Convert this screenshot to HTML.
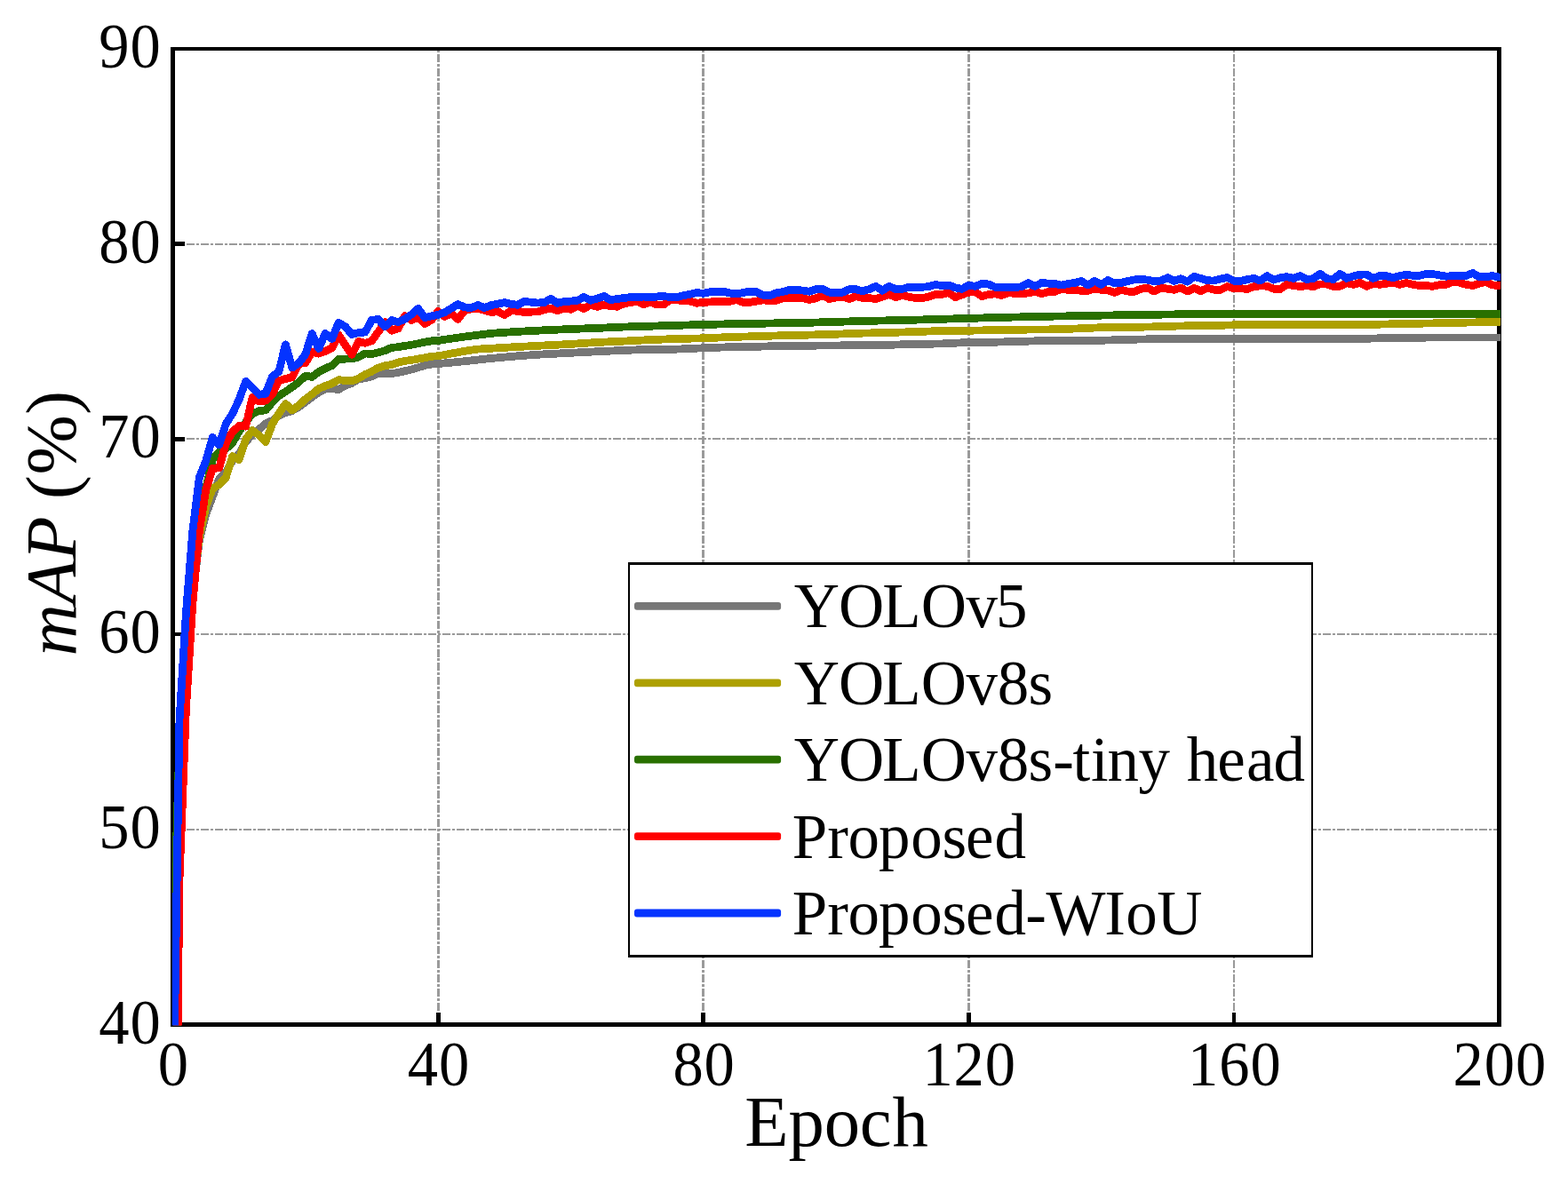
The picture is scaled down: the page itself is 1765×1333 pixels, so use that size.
<!DOCTYPE html>
<html lang="en"><head><meta charset="utf-8"><title>mAP (%) versus Epoch</title>
<style>
html,body{margin:0;padding:0;background:#fff;}
body{width:1765px;height:1333px;overflow:hidden;}
svg{display:block;}
text{font-family:"Liberation Serif","Times New Roman",Times,serif;fill:#000;font-kerning:none;white-space:pre;}
.tick{font-size:71px;}
.leg{font-size:71px;}
.axl{font-size:80.7px;}
.it{font-style:italic;}
</style></head><body>
<svg width="1765" height="1333" viewBox="0 0 1765 1333">
<rect width="1765" height="1333" fill="#fff"/>
<defs><clipPath id="plot"><rect x="193.8" y="50" width="1495.4" height="1104.4"/></clipPath></defs>
<g fill="none" stroke="#9a9a9a" shape-rendering="crispEdges">
<line x1="210" y1="275" x2="1685" y2="275" stroke-width="2" stroke-dasharray="8.99 2 3 2"/>
<line x1="210" y1="494" x2="1685" y2="494" stroke-width="2" stroke-dasharray="8.99 2 3 2"/>
<line x1="210" y1="714" x2="1685" y2="714" stroke-width="2" stroke-dasharray="8.99 2 3 2"/>
<line x1="210" y1="934" x2="1685" y2="934" stroke-width="2" stroke-dasharray="8.99 2 3 2"/>
<line x1="493.5" y1="1138" x2="493.5" y2="57" stroke-width="3" stroke-dasharray="8.96 1.99 3 1.99"/>
<line x1="791.5" y1="1138" x2="791.5" y2="57" stroke-width="3" stroke-dasharray="8.96 1.99 3 1.99"/>
<line x1="1090.5" y1="1138" x2="1090.5" y2="57" stroke-width="3" stroke-dasharray="8.96 1.99 3 1.99"/>
<line x1="1389" y1="1138" x2="1389" y2="57" stroke-width="2" stroke-dasharray="8.96 1.99 3 1.99"/>
</g>
<g fill="#000" shape-rendering="crispEdges">
<rect x="192" y="53" width="5" height="1103"/>
<rect x="1685" y="53" width="5" height="1103"/>
<rect x="192" y="53" width="1498" height="4"/>
<rect x="192" y="1151" width="1498" height="5"/>
<rect x="197" y="272" width="11" height="5"/>
<rect x="197" y="492" width="11" height="5"/>
<rect x="197" y="712" width="11" height="4"/>
<rect x="197" y="931" width="11" height="5"/>
<rect x="491" y="1140" width="5" height="11"/>
<rect x="789" y="1140" width="5" height="11"/>
<rect x="1088" y="1140" width="5" height="11"/>
<rect x="1387" y="1140" width="4" height="11"/>
</g>
<g clip-path="url(#plot)" fill="none" stroke-width="8.8" stroke-linejoin="round" stroke-linecap="round" shape-rendering="crispEdges">
<polyline stroke="#767676" points="194.5,1592.9 201.97,977.74 209.43,780.01 216.9,670.16 224.36,608.64 231.82,578.98 239.29,559.21 246.75,538.78 254.22,531.75 261.69,518.57 269.15,510.88 276.62,497.7 284.08,488.91 291.55,483.42 299.01,476.82 306.48,473.53 313.94,468.04 321.4,464.74 328.87,462.54 336.34,458.15 343.8,452.66 351.26,447.16 358.73,441.67 366.19,437.72 373.66,437.72 381.12,438.6 388.59,433.98 396.06,431.35 403.52,426.73 410.99,425.85 418.45,423.66 425.91,420.58 433.38,420.58 440.85,420.58 448.31,419.48 455.77,417.72 463.24,415.97 470.7,413.77 478.17,411.35 485.63,410.04 493.1,409.6 500.56,408.88 508.03,408.17 515.5,407.45 522.96,406.74 530.42,405.92 537.89,405.09 545.36,404.27 552.82,403.44 560.29,402.79 567.75,402.13 575.21,401.47 582.68,400.81 590.14,400.31 597.61,399.82 605.08,399.32 612.54,398.83 620,398.45 627.47,398.06 634.93,397.68 642.4,397.29 649.87,396.91 657.33,396.52 664.8,396.14 672.26,395.75 679.73,395.43 687.19,395.1 694.65,394.77 702.12,394.44 709.59,394.16 717.05,393.89 724.51,393.61 731.98,393.34 739.45,393.28 746.91,393.23 754.38,393.17 761.84,393.12 769.3,392.79 776.77,392.46 784.24,392.13 791.7,391.8 799.16,391.53 806.63,391.25 814.1,390.98 821.56,390.7 829.02,390.59 836.49,390.48 843.96,390.37 851.42,390.26 858.88,390.04 866.35,389.82 873.82,389.6 881.28,389.38 888.75,389.33 896.21,389.27 903.67,389.22 911.14,389.16 918.61,389.11 926.07,389.05 933.53,389 941,388.94 948.47,388.89 955.93,388.83 963.39,388.78 970.86,388.72 978.33,388.61 985.79,388.5 993.25,388.39 1000.72,388.28 1008.18,388.07 1015.65,387.85 1023.12,387.63 1030.58,387.41 1038.05,387.3 1045.51,387.19 1052.97,387.08 1060.44,386.97 1067.9,386.58 1075.37,386.2 1082.84,385.81 1090.3,385.43 1097.76,385.37 1105.23,385.32 1112.7,385.26 1120.16,385.21 1127.62,384.99 1135.09,384.77 1142.55,384.55 1150.02,384.33 1157.49,384.11 1164.95,383.89 1172.41,383.67 1179.88,383.45 1187.35,383.45 1194.81,383.45 1202.28,383.45 1209.74,383.45 1217.2,383.4 1224.67,383.34 1232.13,383.29 1239.6,383.23 1247.07,383.01 1254.53,382.79 1261.99,382.57 1269.46,382.35 1276.92,382.19 1284.39,382.02 1291.86,381.86 1299.32,381.69 1306.79,381.58 1314.25,381.47 1321.71,381.36 1329.18,381.25 1336.64,381.25 1344.11,381.25 1351.58,381.25 1359.04,381.25 1366.51,381.25 1373.97,381.25 1381.43,381.25 1388.9,381.25 1396.37,381.25 1403.83,381.25 1411.3,381.25 1418.76,381.25 1426.22,381.25 1433.69,381.25 1441.15,381.25 1448.62,381.25 1456.09,381.25 1463.55,381.25 1471.02,381.25 1478.48,381.25 1485.94,381.25 1493.41,381.25 1500.88,381.25 1508.34,381.25 1515.81,381.25 1523.27,381.25 1530.73,381.25 1538.2,381.25 1545.66,381.03 1553.13,380.82 1560.6,380.6 1568.06,380.38 1575.53,380.16 1582.99,380.14 1590.45,380.13 1597.92,380.11 1605.38,380.1 1612.85,380.08 1620.32,380.07 1627.78,380.05 1635.24,380.04 1642.71,380.02 1650.17,380.01 1657.64,379.99 1665.11,379.98 1672.57,379.97 1680.04,379.95 1687.5,379.94"/>
<polyline stroke="#ada000" points="194.5,1592.9 201.97,977.74 209.43,780.01 216.9,670.16 224.36,604.25 231.82,570.42 239.29,549.98 246.75,545.59 254.22,537.68 261.69,513.73 269.15,517.69 276.62,494.4 284.08,484.51 291.55,490.01 299.01,497.7 306.48,477.26 313.94,465.62 321.4,454.63 328.87,461.88 336.34,456.39 343.8,449.36 351.26,443.87 358.73,437.72 366.19,434.42 373.66,431.79 381.12,427.61 388.59,428.49 396.06,428.93 403.52,426.07 410.99,421.68 418.45,418.16 425.91,413.99 433.38,411.79 440.85,410.47 448.31,408.06 455.77,406.3 463.24,405.42 470.7,404.1 478.17,402.79 485.63,401.25 493.1,400.81 500.56,399.43 508.03,398.06 515.5,396.69 522.96,395.32 530.42,394.22 537.89,393.12 545.36,392.68 552.82,392.24 560.29,391.8 567.75,391.36 575.21,390.92 582.68,390.48 590.14,390.1 597.61,389.71 605.08,389.33 612.54,388.94 620,388.56 627.47,388.18 634.93,387.79 642.4,387.41 649.87,386.91 657.33,386.42 664.8,385.92 672.26,385.43 679.73,385.1 687.19,384.77 694.65,384.44 702.12,384.11 709.59,383.73 717.05,383.34 724.51,382.96 731.98,382.57 739.45,382.3 746.91,382.02 754.38,381.75 761.84,381.47 769.3,381.31 776.77,381.14 784.24,380.98 791.7,380.82 799.16,380.49 806.63,380.16 814.1,379.83 821.56,379.5 829.02,379.28 836.49,379.06 843.96,378.84 851.42,378.62 858.88,378.4 866.35,378.18 873.82,377.96 881.28,377.74 888.75,377.57 896.21,377.41 903.67,377.24 911.14,377.08 918.61,376.86 926.07,376.64 933.53,376.42 941,376.2 948.47,375.93 955.93,375.65 963.39,375.38 970.86,375.1 978.33,374.94 985.79,374.77 993.25,374.61 1000.72,374.44 1008.18,374.22 1015.65,374 1023.12,373.78 1030.58,373.56 1038.05,373.29 1045.51,373.02 1052.97,372.74 1060.44,372.47 1067.9,372.41 1075.37,372.36 1082.84,372.3 1090.3,372.25 1097.76,372.08 1105.23,371.92 1112.7,371.75 1120.16,371.59 1127.62,371.48 1135.09,371.37 1142.55,371.26 1150.02,371.15 1157.49,371.09 1164.95,371.04 1172.41,370.98 1179.88,370.93 1187.35,370.71 1194.81,370.49 1202.28,370.27 1209.74,370.05 1217.2,369.72 1224.67,369.39 1232.13,369.06 1239.6,368.73 1247.07,368.68 1254.53,368.62 1261.99,368.57 1269.46,368.51 1276.92,368.35 1284.39,368.18 1291.86,368.02 1299.32,367.85 1306.79,367.63 1314.25,367.41 1321.71,367.19 1329.18,366.97 1336.64,366.86 1344.11,366.75 1351.58,366.64 1359.04,366.53 1366.51,366.37 1373.97,366.21 1381.43,366.04 1388.9,365.88 1396.37,365.85 1403.83,365.83 1411.3,365.81 1418.76,365.79 1426.22,365.77 1433.69,365.74 1441.15,365.72 1448.62,365.7 1456.09,365.68 1463.55,365.66 1471.02,365.63 1478.48,365.61 1485.94,365.59 1493.41,365.57 1500.88,365.55 1508.34,365.52 1515.81,365.5 1523.27,365.48 1530.73,365.46 1538.2,365.44 1545.66,365.28 1553.13,365.13 1560.6,364.97 1568.06,364.82 1575.53,364.67 1582.99,364.51 1590.45,364.36 1597.92,364.21 1605.38,364.05 1612.85,363.9 1620.32,363.74 1627.78,363.59 1635.24,363.44 1642.71,363.28 1650.17,363.13 1657.64,362.98 1665.11,362.82 1672.57,362.67 1680.04,362.51 1687.5,362.36"/>
<polyline stroke="#297000" points="194.5,1087.59 201.97,832.74 209.43,700.92 216.9,613.04 224.36,569.1 231.82,549.33 239.29,517.47 246.75,508.46 254.22,505.38 261.69,498.79 269.15,485.61 276.62,475.51 284.08,465.62 291.55,462.76 299.01,461.88 306.48,452.88 313.94,445.63 321.4,441.01 328.87,435.74 336.34,430.25 343.8,423.22 351.26,424.32 358.73,418.82 366.19,414.87 373.66,411.57 381.12,404.54 388.59,404.1 396.06,403.88 403.52,402.13 410.99,397.95 418.45,398.61 425.91,396.85 433.38,394.66 440.85,391.36 448.31,390.7 455.77,389.38 463.24,388.28 470.7,386.75 478.17,385.21 485.63,383.89 493.1,383.45 500.56,382.35 508.03,381.25 515.5,380.16 522.96,379.06 530.42,378.12 537.89,377.19 545.36,376.26 552.82,375.32 560.29,374.83 567.75,374.33 575.21,373.84 582.68,373.35 590.14,372.96 597.61,372.58 605.08,372.19 612.54,371.81 620,371.48 627.47,371.15 634.93,370.82 642.4,370.49 649.87,370.21 657.33,369.94 664.8,369.67 672.26,369.39 679.73,369.06 687.19,368.73 694.65,368.4 702.12,368.07 709.59,367.85 717.05,367.63 724.51,367.41 731.98,367.19 739.45,366.97 746.91,366.75 754.38,366.53 761.84,366.31 769.3,366.1 776.77,365.88 784.24,365.66 791.7,365.44 799.16,365.27 806.63,365.11 814.1,364.94 821.56,364.78 829.02,364.67 836.49,364.56 843.96,364.45 851.42,364.34 858.88,364.17 866.35,364.01 873.82,363.84 881.28,363.68 888.75,363.57 896.21,363.46 903.67,363.35 911.14,363.24 918.61,363.02 926.07,362.8 933.53,362.58 941,362.36 948.47,362.14 955.93,361.92 963.39,361.7 970.86,361.48 978.33,361.32 985.79,361.15 993.25,360.99 1000.72,360.82 1008.18,360.66 1015.65,360.49 1023.12,360.33 1030.58,360.16 1038.05,359.94 1045.51,359.72 1052.97,359.5 1060.44,359.28 1067.9,359.06 1075.37,358.85 1082.84,358.63 1090.3,358.41 1097.76,358.19 1105.23,357.97 1112.7,357.75 1120.16,357.53 1127.62,357.36 1135.09,357.2 1142.55,357.03 1150.02,356.87 1157.49,356.7 1164.95,356.54 1172.41,356.37 1179.88,356.21 1187.35,356.1 1194.81,355.99 1202.28,355.88 1209.74,355.77 1217.2,355.6 1224.67,355.44 1232.13,355.27 1239.6,355.11 1247.07,355 1254.53,354.89 1261.99,354.78 1269.46,354.67 1276.92,354.56 1284.39,354.45 1291.86,354.34 1299.32,354.23 1306.79,354.12 1314.25,354.01 1321.71,353.9 1329.18,353.79 1336.64,353.79 1344.11,353.79 1351.58,353.79 1359.04,353.79 1366.51,353.68 1373.97,353.57 1381.43,353.46 1388.9,353.35 1396.37,353.34 1403.83,353.33 1411.3,353.32 1418.76,353.31 1426.22,353.3 1433.69,353.29 1441.15,353.28 1448.62,353.26 1456.09,353.25 1463.55,353.24 1471.02,353.23 1478.48,353.22 1485.94,353.21 1493.41,353.2 1500.88,353.19 1508.34,353.18 1515.81,353.17 1523.27,353.15 1530.73,353.14 1538.2,353.13 1545.66,353.14 1553.13,353.15 1560.6,353.17 1568.06,353.18 1575.53,353.19 1582.99,353.2 1590.45,353.21 1597.92,353.22 1605.38,353.23 1612.85,353.24 1620.32,353.25 1627.78,353.26 1635.24,353.28 1642.71,353.29 1650.17,353.3 1657.64,353.31 1665.11,353.32 1672.57,353.33 1680.04,353.34 1687.5,353.35"/>
<polyline stroke="#ff0000" points="194.5,1658.81 201.97,990.92 209.43,797.59 216.9,678.95 224.36,597.66 231.82,551.52 239.29,527.36 246.75,526.92 254.22,499.23 261.69,486.05 269.15,479.46 276.62,480.12 284.08,447.38 291.55,452 299.01,451.12 306.48,443.87 313.94,428.49 321.4,426.51 328.87,424.76 336.34,409.38 343.8,408.72 351.26,396.41 358.73,398.17 366.19,395.54 373.66,391.58 381.12,377.08 388.59,388.5 396.06,399.27 403.52,384.55 410.99,386.31 418.45,383.89 425.91,373.56 433.38,362.58 440.85,372.25 448.31,369.83 455.77,355.55 463.24,360.6 470.7,357.09 478.17,364.56 485.63,360.38 493.1,350.5 500.56,356.43 508.03,353.13 515.5,359.5 522.96,349.62 530.42,347.86 537.89,347.42 545.36,349.18 552.82,351.6 560.29,350.72 567.75,354.67 575.21,349.84 582.68,350.28 590.14,351.6 597.61,351.16 605.08,350.94 612.54,348.74 620,347.2 627.47,349.62 634.93,347.2 642.4,348.3 649.87,344.34 657.33,347.64 664.8,343.03 672.26,345.44 679.73,343.03 687.19,344.78 694.65,345.22 702.12,341.93 709.59,340.61 717.05,339.51 724.51,342.59 731.98,340.17 739.45,343.03 746.91,343.03 754.38,337.53 761.84,337.75 769.3,339.07 776.77,339.07 784.24,341.27 791.7,340.39 799.16,339.95 806.63,339.51 814.1,339.29 821.56,339.29 829.02,337.53 836.49,340.39 843.96,340.39 851.42,339.07 858.88,337.97 866.35,338.41 873.82,338.19 881.28,335.78 888.75,335.34 896.21,335.56 903.67,335.56 911.14,337.53 918.61,335.78 926.07,332.48 933.53,336.66 941,334.9 948.47,334.02 955.93,336.66 963.39,333.58 970.86,335.56 978.33,335.56 985.79,336.66 993.25,334.02 1000.72,331.6 1008.18,334.68 1015.65,332.48 1023.12,334.24 1030.58,335.56 1038.05,335.56 1045.51,334.02 1052.97,331.38 1060.44,331.38 1067.9,329.62 1075.37,334.68 1082.84,331.82 1090.3,329.19 1097.76,328.75 1105.23,333.58 1112.7,331.6 1120.16,330.94 1127.62,332.48 1135.09,329.62 1142.55,330.5 1150.02,330.28 1157.49,330.06 1164.95,328.31 1172.41,330.72 1179.88,328.53 1187.35,328.31 1194.81,325.23 1202.28,326.33 1209.74,326.33 1217.2,327.43 1224.67,327.43 1232.13,325.01 1239.6,326.33 1247.07,326.99 1254.53,329.41 1261.99,326.33 1269.46,328.09 1276.92,328.31 1284.39,325.23 1291.86,324.13 1299.32,328.09 1306.79,323.91 1314.25,325.23 1321.71,326.33 1329.18,324.13 1336.64,328.09 1344.11,324.35 1351.58,327.65 1359.04,324.35 1366.51,326.11 1373.97,326.33 1381.43,322.59 1388.9,324.79 1396.37,324.57 1403.83,325.67 1411.3,322.59 1418.76,321.94 1426.22,322.16 1433.69,325.23 1441.15,325.45 1448.62,320.18 1456.09,321.5 1463.55,322.59 1471.02,321.72 1478.48,322.59 1485.94,319.96 1493.41,319.96 1500.88,322.59 1508.34,322.16 1515.81,318.64 1523.27,320.4 1530.73,318.42 1538.2,322.37 1545.66,319.3 1553.13,320.4 1560.6,319.3 1568.06,317.98 1575.53,320.4 1582.99,318.42 1590.45,320.4 1597.92,321.5 1605.38,321.5 1612.85,322.37 1620.32,320.62 1627.78,320.4 1635.24,317.1 1642.71,318.2 1650.17,320.4 1657.64,321.5 1665.11,319.3 1672.57,317.32 1680.04,321.06 1687.5,321.28"/>
<polyline stroke="#0433ff" points="194.5,1285.32 201.97,810.77 209.43,689.93 216.9,597.66 224.36,537.68 231.82,518.57 239.29,492.42 246.75,500.99 254.22,477.26 261.69,465.62 269.15,449.8 276.62,429.37 284.08,436.62 291.55,444.31 299.01,443.21 306.48,423.88 313.94,418.38 321.4,387.85 328.87,413.99 336.34,408.94 343.8,398.83 351.26,375.54 358.73,392.46 366.19,375.54 373.66,381.47 381.12,363.46 388.59,367.63 396.06,376.42 403.52,374.66 410.99,374 418.45,360.38 425.91,359.5 433.38,367.63 440.85,360.6 448.31,362.58 455.77,359.06 463.24,354.01 470.7,347.42 478.17,357.75 485.63,355.77 493.1,354.45 500.56,351.6 508.03,347.2 515.5,342.59 522.96,345.88 530.42,346.54 537.89,343.47 545.36,346.54 552.82,343.69 560.29,342.15 567.75,340.61 575.21,342.37 582.68,343.25 590.14,339.51 597.61,340.17 605.08,341.05 612.54,340.61 620,336.22 627.47,341.27 634.93,339.51 642.4,339.07 649.87,338.41 657.33,334.46 664.8,338.19 672.26,336.22 679.73,333.36 687.19,337.75 694.65,336.44 702.12,335.56 709.59,334.68 717.05,334.68 724.51,334.02 731.98,334.68 739.45,334.02 746.91,333.36 754.38,334.68 761.84,334.68 769.3,332.7 776.77,331.16 784.24,329.62 791.7,330.28 799.16,328.75 806.63,328.31 814.1,328.09 821.56,330.06 829.02,330.94 836.49,329.62 843.96,328.09 851.42,328.75 858.88,332.26 866.35,332.92 873.82,329.84 881.28,328.53 888.75,326.33 896.21,326.55 903.67,326.99 911.14,328.31 918.61,325.45 926.07,325.45 933.53,329.19 941,329.41 948.47,329.19 955.93,325.67 963.39,325.67 970.86,327.87 978.33,325.67 985.79,322.37 993.25,327.21 1000.72,322.37 1008.18,325.45 1015.65,325.45 1023.12,323.25 1030.58,323.25 1038.05,323.25 1045.51,322.59 1052.97,320.4 1060.44,321.72 1067.9,321.06 1075.37,323.91 1082.84,325.45 1090.3,321.28 1097.76,322.37 1105.23,319.52 1112.7,319.96 1120.16,323.25 1127.62,323.47 1135.09,323.91 1142.55,323.69 1150.02,322.59 1157.49,318.64 1164.95,322.37 1172.41,318.42 1179.88,319.08 1187.35,319.52 1194.81,321.06 1202.28,319.52 1209.74,318.42 1217.2,316.44 1224.67,321.06 1232.13,316.22 1239.6,320.4 1247.07,315.56 1254.53,318.86 1261.99,318.42 1269.46,316.44 1276.92,314.91 1284.39,314.25 1291.86,315.12 1299.32,316.66 1306.79,316 1314.25,312.71 1321.71,316.44 1329.18,313.81 1336.64,317.1 1344.11,311.39 1351.58,313.37 1359.04,315.78 1366.51,316 1373.97,314.03 1381.43,312.49 1388.9,316.22 1396.37,316.44 1403.83,314.69 1411.3,313.37 1418.76,316 1426.22,310.73 1433.69,315.12 1441.15,312.71 1448.62,311.61 1456.09,313.37 1463.55,310.51 1471.02,314.47 1478.48,313.59 1485.94,308.31 1493.41,313.59 1500.88,314.47 1508.34,308.31 1515.81,313.37 1523.27,310.95 1530.73,309.19 1538.2,308.97 1545.66,313.37 1553.13,310.51 1560.6,310.73 1568.06,312.71 1575.53,310.51 1582.99,309.19 1590.45,310.29 1597.92,310.29 1605.38,308.31 1612.85,308.53 1620.32,309.85 1627.78,311.17 1635.24,310.51 1642.71,310.29 1650.17,310.51 1657.64,307.44 1665.11,311.61 1672.57,311.83 1680.04,310.51 1687.5,312.05"/>
</g>
<text class="tick" transform="translate(0 1174.5) scale(0.965 1.027)" x="115.39 151.87" y="0">40</text>
<text class="tick" transform="translate(0 954.8) scale(0.965 1.027)" x="115.39 151.87" y="0">50</text>
<text class="tick" transform="translate(0 735.1) scale(0.965 1.027)" x="115.39 151.87" y="0">60</text>
<text class="tick" transform="translate(0 515.4) scale(0.965 1.027)" x="115.39 151.87" y="0">70</text>
<text class="tick" transform="translate(0 295.7) scale(0.965 1.027)" x="115.39 151.87" y="0">80</text>
<text class="tick" transform="translate(0 76) scale(0.965 1.027)" x="115.39 151.87" y="0">90</text>
<text class="tick" transform="translate(0 1222.3) scale(0.965 1.027)" x="184.25" y="0">0</text>
<text class="tick" transform="translate(0 1222.3) scale(0.965 1.027)" x="475.44 511.92" y="0">40</text>
<text class="tick" transform="translate(0 1222.3) scale(0.965 1.027)" x="784.87 821.35" y="0">80</text>
<text class="tick" transform="translate(0 1222.3) scale(0.965 1.027)" x="1076.06 1112.54 1149.02" y="0">120</text>
<text class="tick" transform="translate(0 1222.3) scale(0.965 1.027)" x="1385.49 1421.97 1458.45" y="0">160</text>
<text class="tick" transform="translate(0 1222.3) scale(0.965 1.027)" x="1694.92 1731.4 1767.88" y="0">200</text>
<text class="axl" transform="translate(0 1289.9) scale(1 1)" x="838.17 887.6 927.83 967.68 1004.46" y="0">Epoch</text>
<text class="axl" transform="translate(85 0) rotate(-90)" y="0"><tspan class="it" x="-738.4">mAP</tspan><tspan x="-582.21 -562.03 -534.61 -466.66"> (%)</tspan></text>
<g shape-rendering="crispEdges">
<rect x="707" y="633" width="771" height="445" fill="#fff"/>
<rect x="707" y="633" width="2" height="445"/>
<rect x="1476" y="633" width="2" height="445"/>
<rect x="707" y="633" width="771" height="3"/>
<rect x="707" y="1075" width="771" height="3"/>
</g>
<rect x="714" y="678" width="165.1" height="8.8" rx="3" fill="#767676"/>
<rect x="714" y="764.4" width="165.1" height="8.8" rx="3" fill="#ada000"/>
<rect x="714" y="850.8" width="165.1" height="8.8" rx="3" fill="#297000"/>
<rect x="714" y="937.2" width="165.1" height="8.8" rx="3" fill="#ff0000"/>
<rect x="714" y="1023.6" width="165.1" height="8.8" rx="3" fill="#0433ff"/>
<text class="leg" transform="translate(0 706) scale(1 1.017)" x="893.77 943.96 993.37 1036.81 1087.4 1121.07" y="0">YOLOv5</text>
<text class="leg" transform="translate(0 793.2) scale(1 1.017)" x="893.77 943.96 993.37 1036.81 1087.4 1122.65 1157.44" y="0">YOLOv8s</text>
<text class="leg" transform="translate(0 879.3) scale(1 1.017)" x="893.77 943.96 993.37 1036.81 1087.4 1122.65 1157.44 1185.19 1207.5 1228.02 1246.42 1281.41 1316.91 1335.8 1370.24 1402.98 1433.45" y="0">YOLOv8s-tiny head</text>
<text class="leg" transform="translate(0 965.8) scale(1 1.017)" x="891.76 931.25 954.45 989.11 1025.3 1060.41 1087.04 1119.5" y="0">Proposed</text>
<text class="leg" transform="translate(0 1051.7) scale(1 1.017)" x="891.76 931.25 954.45 989.11 1025.3 1060.41 1087.04 1119.5 1154.19 1177.63 1243.32 1267.3 1302.26" y="0">Proposed-WIoU</text>
</svg>
</body></html>
